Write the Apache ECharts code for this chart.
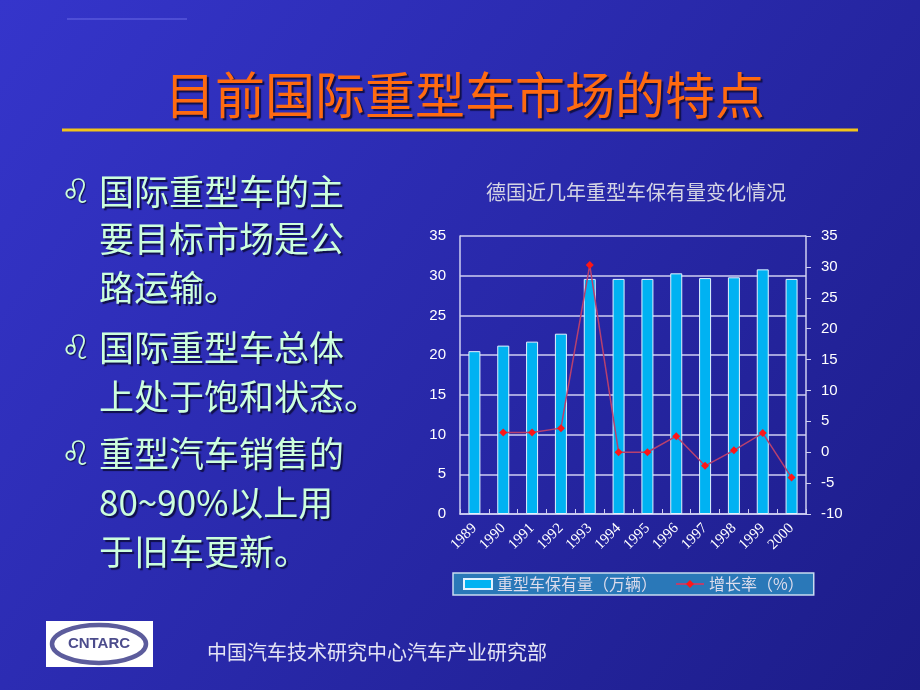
<!DOCTYPE html>
<html><head><meta charset="utf-8">
<script src="https://cdn.jsdelivr.net/npm/echarts@6/dist/echarts.min.js"></script>
<style>html,body{margin:0;padding:0;background:#2a2ab8;}#c{width:920px;height:690px;}</style>
</head><body><div id="c"></div>
<script>
var years = ['1989','1990','1991','1992','1993','1994','1995','1996','1997','1998','1999','2000'];
var stock = [20.5, 21.2, 21.7, 22.7, 29.6, 29.6, 29.6, 30.3, 29.7, 29.8, 30.8, 29.6];
var growth = [null, 3.2, 3.2, 3.9, 30.3, 0, 0, 2.6, -2.2, 0.3, 3.1, -4.1];
var leftTicks = {min: 0, max: 35, interval: 5};
var rightTicks = {min: -10, max: 35, interval: 5};
var slideTitle = '目前国际重型车市场的特点';
var chartTitle = '德国近几年重型车保有量变化情况';
var seriesNames = ['重型车保有量（万辆）', '增长率（%）'];
var bulletLines = [
  ['国际重型车的主', '要目标市场是公', '路运输。'],
  ['国际重型车总体', '上处于饱和状态。'],
  ['重型汽车销售的', '80~90%以上用', '于旧车更新。']
];
var footer = '中国汽车技术研究中心汽车产业研究部';

var chart = echarts.init(document.getElementById('c'), null, {renderer: 'canvas'});
var cjk = '"Noto Sans CJK SC", sans-serif';
var graphics = [];
// faint top line
graphics.push({type: 'line', shape: {x1: 67, y1: 19, x2: 187, y2: 19}, style: {stroke: '#6a6ae6', lineWidth: 1}});
// title
graphics.push({type: 'text', x: 465, y: 95, style: {text: slideTitle, fill: '#ff6a10', font: '50px ' + cjk, align: 'center', verticalAlign: 'middle', textShadowColor: '#10104a', textShadowBlur: 1, textShadowOffsetX: 2, textShadowOffsetY: 2}});
graphics.push({type: 'line', shape: {x1: 62, y1: 130, x2: 858, y2: 130}, style: {stroke: '#f2c41a', lineWidth: 3}});
// bullets
var ys = [[192, 239, 288], [348, 397], [454, 503, 552]];
bulletLines.forEach(function (grp, gi) {
  graphics.push({type: 'text', x: 76, y: ys[gi][0] + 2, style: {text: '\u264C', fill: '#ccffdd', font: '34px "DejaVu Sans"', align: 'center', verticalAlign: 'middle', textShadowColor: '#10104a', textShadowBlur: 1, textShadowOffsetX: 1, textShadowOffsetY: 1}});
  grp.forEach(function (line, li) {
    graphics.push({type: 'text', x: 99, y: ys[gi][li], style: {text: line, fill: '#ccffdd', font: '35px ' + cjk, align: 'left', verticalAlign: 'middle', textShadowColor: '#10104a', textShadowBlur: 1, textShadowOffsetX: 2, textShadowOffsetY: 2}});
  });
});
// logo
graphics.push({type: 'rect', shape: {x: 46, y: 621, width: 107, height: 46}, style: {fill: '#ffffff'}});
graphics.push({type: 'ellipse', shape: {cx: 99, cy: 644, rx: 47, ry: 19}, style: {fill: 'none', stroke: '#5c5c9c', lineWidth: 4.5}});
graphics.push({type: 'text', x: 99, y: 644, style: {text: 'CNTARC', fill: '#4c4c8c', font: 'bold 15px "Liberation Sans Narrow", "Liberation Sans", sans-serif', align: 'center', verticalAlign: 'middle'}});
// footer
graphics.push({type: 'text', x: 207, y: 652, style: {text: footer, fill: '#e4e4f4', font: '20px ' + cjk, align: 'left', verticalAlign: 'middle'}});
// chart title
graphics.push({type: 'text', x: 636, y: 192, style: {text: chartTitle, fill: '#d4d4e4', font: '20px ' + cjk, align: 'center', verticalAlign: 'middle'}});

var axisCol = '#cfcff2';
chart.setOption({
  backgroundColor: new echarts.graphic.LinearGradient(0, 0, 1, 1, [
    {offset: 0, color: '#3535cb'}, {offset: 1, color: '#1c1c88'}
  ]),
  animation: false,
  graphic: graphics,
  grid: {left: 460, top: 236, width: 346, height: 278, containLabel: false},
  legend: {
    left: 453, top: 573, padding: [3, 10], itemGap: 18, itemWidth: 28, itemHeight: 10,
    backgroundColor: '#2a78b8', borderColor: '#c8dcf0', borderWidth: 1.5,
    textStyle: {color: '#dcdcec', fontSize: 16, fontFamily: cjk},
    data: [
      {name: seriesNames[0], icon: 'rect'},
      {name: seriesNames[1]}
    ]
  },
  xAxis: {
    type: 'category', data: years, boundaryGap: true,
    axisLine: {lineStyle: {color: axisCol, width: 1.5}},
    axisTick: {show: true, inside: true, length: 5, lineStyle: {color: axisCol}},
    axisLabel: {rotate: 45, color: '#ffffff', fontSize: 15, fontFamily: '"Liberation Serif", serif', margin: 12, interval: 0}
  },
  yAxis: [
    {type: 'value', min: leftTicks.min, max: leftTicks.max, interval: leftTicks.interval,
     axisLine: {show: true, lineStyle: {color: axisCol, width: 1.5}},
     axisTick: {show: false},
     splitLine: {show: true, lineStyle: {color: axisCol, width: 1.5}},
     axisLabel: {color: '#ffffff', fontSize: 15, fontFamily: '"Liberation Sans", Arial, sans-serif', margin: 14}},
    {type: 'value', min: rightTicks.min, max: rightTicks.max, interval: rightTicks.interval, position: 'right',
     axisLine: {show: true, lineStyle: {color: axisCol, width: 1.5}},
     axisTick: {show: true, length: 5, lineStyle: {color: axisCol}},
     splitLine: {show: false},
     axisLabel: {color: '#ffffff', fontSize: 15, fontFamily: '"Liberation Sans", Arial, sans-serif', margin: 15}}
  ],
  series: [
    {name: seriesNames[0], type: 'bar', data: stock, yAxisIndex: 0, barWidth: 12,
     itemStyle: {color: '#00b2f2', borderColor: '#e2f2ff', borderWidth: 1}},
    {name: seriesNames[1], type: 'line', data: growth, yAxisIndex: 1, connectNulls: false,
     symbol: 'diamond', symbolSize: 8, showSymbol: true,
     lineStyle: {color: '#b8406e', width: 1.5},
     itemStyle: {color: '#ff1616'}}
  ]
});
</script></body></html>
